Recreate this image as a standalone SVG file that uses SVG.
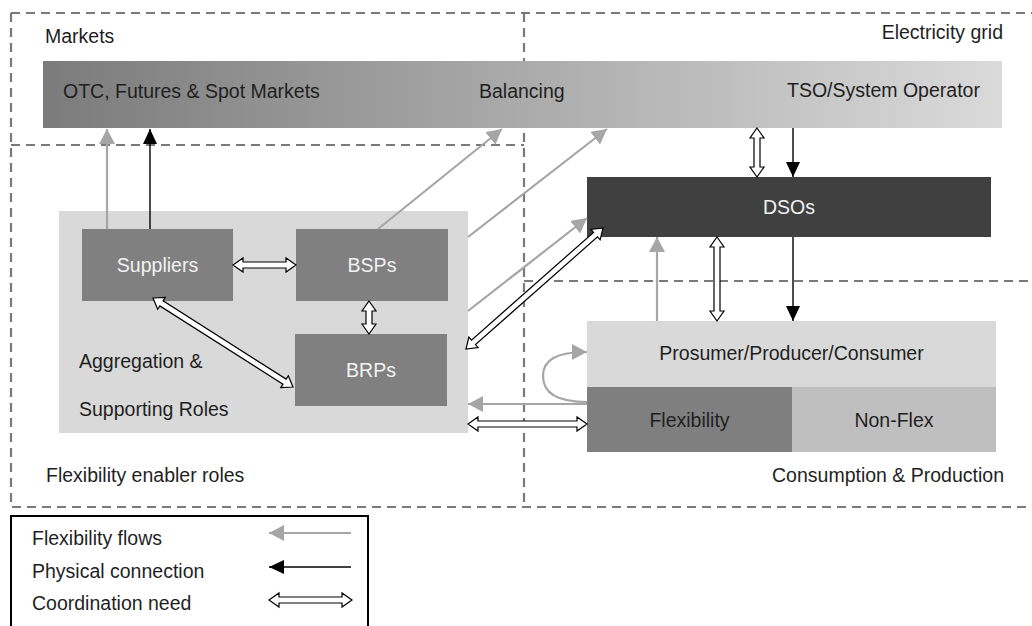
<svg xmlns="http://www.w3.org/2000/svg" width="1032" height="626" viewBox="0 0 1032 626">
<style>
text{font-family:"Liberation Sans",Arial,sans-serif;font-size:19.5px;fill:#1f1f1f}
.w{fill:#f2f2f2}
.c{text-anchor:middle}
.e{text-anchor:end}
.dash{stroke:#7a7a7a;stroke-width:2.2;stroke-dasharray:9,6;fill:none}
.flow{stroke:#a6a6a6;stroke-width:2.2;fill:none;marker-end:url(#mg)}
.phys{stroke:#000;stroke-width:1.4;fill:none;marker-end:url(#mb)}
.coord{fill:#fff;stroke:#000;stroke-width:1.2}
</style>
<defs>
<linearGradient id="bar" x1="0" y1="0" x2="1" y2="0">
<stop offset="0" stop-color="#7b7b7b"/>
<stop offset="1" stop-color="#dadada"/>
</linearGradient>
<marker id="mg" viewBox="0 0 15 16" refX="15" refY="8" markerWidth="15" markerHeight="16" markerUnits="userSpaceOnUse" orient="auto">
<path d="M0,0 L15,8 L0,16 z" fill="#a6a6a6"/>
</marker>
<marker id="mb" viewBox="0 0 15 14" refX="15" refY="7" markerWidth="15" markerHeight="14" markerUnits="userSpaceOnUse" orient="auto">
<path d="M0,0 L15,7 L0,14 z" fill="#000"/>
</marker>
</defs>
<rect width="1032" height="626" fill="#fff"/>

<g id="regions">
<path class="dash" d="M11,13 H1032 M11,13 V507 H1032 M524,13 V507 M11,145 H524 M524,281 H1032"/>
<text x="45" y="43">Markets</text>
<text class="e" x="1003" y="39">Electricity grid</text>
<text x="46" y="482">Flexibility enabler roles</text>
<text class="e" x="1004" y="482">Consumption &amp; Production</text>
</g>

<g id="market-bar">
<rect x="43" y="61" width="959" height="67" fill="url(#bar)"/>
<text x="63" y="98">OTC, Futures &amp; Spot Markets</text>
<text x="479" y="98">Balancing</text>
<text x="787" y="97">TSO/System Operator</text>
</g>

<g id="aggregation">
<rect x="59" y="211" width="409" height="222" fill="#d9d9d9"/>
<text x="79" y="368">Aggregation &amp;</text>
<text x="79" y="416">Supporting Roles</text>
</g>

<g id="suppliers">
<rect x="82" y="229" width="151" height="72" fill="#808080"/>
<text class="w c" x="157.5" y="272">Suppliers</text>
</g>
<g id="bsps">
<rect x="296" y="229" width="152" height="72" fill="#808080"/>
<text class="w c" x="372" y="272">BSPs</text>
</g>
<g id="brps">
<rect x="295" y="334" width="152" height="72" fill="#808080"/>
<text class="w c" x="371" y="377">BRPs</text>
</g>

<g id="dsos">
<rect x="587" y="177" width="404" height="60" fill="#404040"/>
<text class="w c" x="789" y="214">DSOs</text>
</g>

<g id="prosumer">
<rect x="587" y="321" width="409" height="66" fill="#d9d9d9"/>
<text class="c" x="791.5" y="360">Prosumer/Producer/Consumer</text>
</g>
<g id="flexibility">
<rect x="587" y="387" width="205" height="65" fill="#7f7f7f"/>
<text class="c" x="689.5" y="427">Flexibility</text>
</g>
<g id="nonflex">
<rect x="792" y="387" width="204" height="65" fill="#bfbfbf"/>
<text class="c" x="894" y="427">Non-Flex</text>
</g>

<g id="connectors">
<line class="flow" x1="107" y1="229" x2="107" y2="129"/>
<line class="flow" x1="378" y1="229" x2="502" y2="129"/>
<line class="flow" x1="468" y1="237" x2="607" y2="129"/>
<line class="flow" x1="468" y1="311" x2="587" y2="218"/>
<line class="flow" x1="657" y1="321" x2="657" y2="237"/>
<line class="flow" x1="587" y1="404" x2="468" y2="404"/>
<path class="flow" d="M587,402 C554,402 543,391 543,376 C543,360 556,352 587,352"/>
<line class="phys" x1="150" y1="229" x2="150" y2="129"/>
<line class="phys" x1="793" y1="128" x2="793" y2="177"/>
<line class="phys" x1="793" y1="237" x2="793" y2="321"/>
<polygon class="coord" transform="translate(233,265)" points="0,0 10,-7 10,-3 53,-3 53,-7 63,0 53,7 53,3 10,3 10,7"/>
<polygon class="coord" transform="translate(369,301) rotate(90)" points="0,0 10,-7 10,-3 23,-3 23,-7 33,0 23,7 23,3 10,3 10,7"/>
<polygon class="coord" transform="translate(153,298) rotate(32.45)" points="0,0 10,-7 10,-3 155.9,-3 155.9,-7 165.9,0 155.9,7 155.9,3 10,3 10,7"/>
<polygon class="coord" transform="translate(466,349) rotate(-41.45)" points="0,0 10,-7 10,-3 172.8,-3 172.8,-7 182.8,0 172.8,7 172.8,3 10,3 10,7"/>
<polygon class="coord" transform="translate(468,424)" points="0,0 10,-7 10,-3 109,-3 109,-7 119,0 109,7 109,3 10,3 10,7"/>
<polygon class="coord" transform="translate(757,128) rotate(90)" points="0,0 10,-7 10,-3 39,-3 39,-7 49,0 39,7 39,3 10,3 10,7"/>
<polygon class="coord" transform="translate(717,237) rotate(90)" points="0,0 10,-7 10,-3 74,-3 74,-7 84,0 74,7 74,3 10,3 10,7"/>
</g>

<g id="legend">
<rect x="11" y="516" width="357" height="120" fill="#fff" stroke="#000" stroke-width="2"/>
<text x="32" y="545">Flexibility flows</text>
<text x="32" y="578">Physical connection</text>
<text x="32" y="610">Coordination need</text>
<line class="flow" x1="351" y1="533" x2="269" y2="533"/>
<line class="phys" x1="351" y1="567" x2="269" y2="567"/>
<polygon class="coord" transform="translate(269,600)" points="0,0 10,-7 10,-3 73,-3 73,-7 83,0 73,7 73,3 10,3 10,7"/>
</g>
</svg>
